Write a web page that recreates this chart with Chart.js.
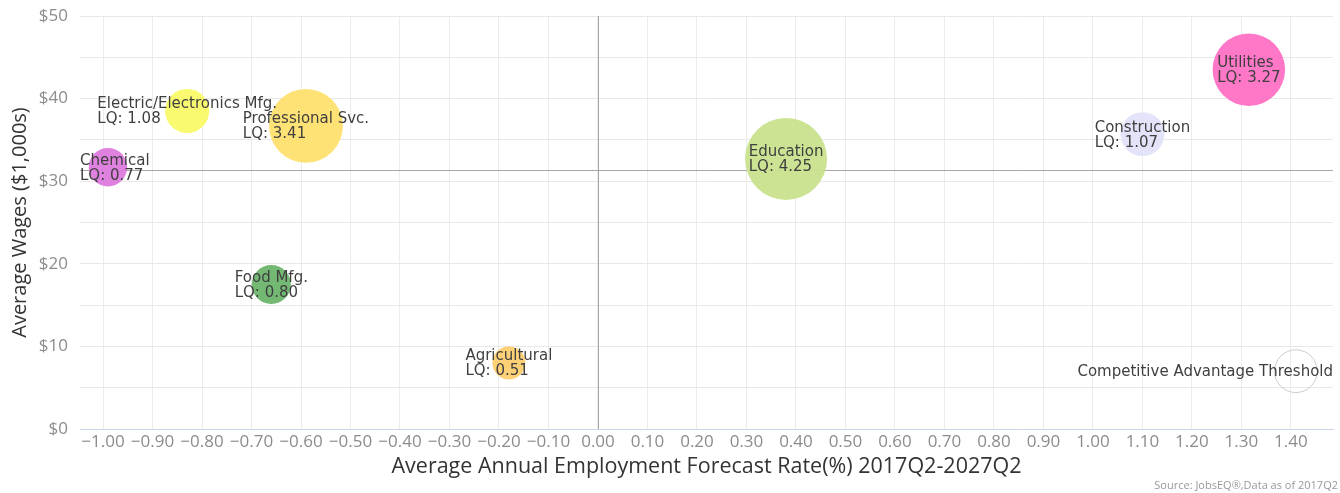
<!DOCTYPE html>
<html>
<head>
<meta charset="utf-8">
<script src="https://cdn.jsdelivr.net/npm/chart.js@4/dist/chart.umd.min.js"></script>
<style>
  html, body { margin: 0; padding: 0; background: #fff; }
  #wrap { width: 1340px; height: 493px; position: relative; }
</style>
</head>
<body>
<div id="wrap"><canvas id="lqChart"></canvas></div>
<script>
// Industries: employment forecast vs. average wage, bubble size = location quotient (LQ)
const industries = ["Chemical", "Electric/Electronics Mfg.", "Professional Svc.", "Food Mfg.",
  "Agricultural", "Education", "Construction", "Utilities"];
const forecastRates = [-0.99, -0.83, -0.59, -0.66, -0.18, 0.38, 1.10, 1.315];
const avgWages = [31.7, 38.5, 36.7, 17.5, 8.0, 32.7, 35.7, 43.5];
const lqValues = [0.77, 1.08, 3.41, 0.80, 0.51, 4.25, 1.07, 3.27];
const bubbleColors = [
  "rgba(221, 122, 221, 0.95)",
  "rgba(250, 250, 105, 0.95)",
  "rgba(255, 224, 110, 0.95)",
  "rgba(108, 180, 108, 0.95)",
  "rgba(255, 207, 112, 0.95)",
  "rgba(200, 226, 140, 0.95)",
  "rgba(226, 226, 250, 0.95)",
  "rgba(255, 112, 196, 0.95)",
];

// Reference bubble (LQ = 1)
const thresholdLabel = "Competitive Advantage Threshold";
const thresholdX = [1.41];
const thresholdY = [7.0];
const thresholdLQ = [1.0];

// Regional average wage (horizontal reference line)
const regionAvgWage = 31.3;

const xTickValues = [-1.0, -0.9, -0.8, -0.7, -0.6, -0.5, -0.4, -0.3, -0.2, -0.1, 0,
  0.1, 0.2, 0.3, 0.4, 0.5, 0.6, 0.7, 0.8, 0.9, 1.0, 1.1, 1.2, 1.3, 1.4];
const yTickValues = [0, 5, 10, 15, 20, 25, 30, 35, 40, 45, 50];

// bubble size by area, like highcharts (min/max diameter in px)
const allLQ = lqValues.concat(thresholdLQ);
const zMin = Math.min(...allLQ);
const zMax = Math.max(...allLQ);
function bubbleRadius(z) {
  const minD = 33, maxD = 82;
  const pos = (z - zMin) / (zMax - zMin);
  return Math.sqrt(minD * minD + pos * (maxD * maxD - minD * minD)) / 2;
}

const industryPoints = industries.map((name, i) => ({
  x: forecastRates[i], y: avgWages[i], r: bubbleRadius(lqValues[i]),
}));
const industryLabels = industries.map((name, i) => [name, "LQ: " + lqValues[i].toFixed(2)]);

const thresholdPoints = thresholdX.map((x, i) => ({
  x: x, y: thresholdY[i], r: bubbleRadius(thresholdLQ[i]),
}));

// lignes de référence (x = 0 et salaire moyen)
const refLines = {
  id: "refLines",
  beforeDatasetsDraw(chart) {
    const { ctx, chartArea, scales } = chart;
    const x0 = Math.round(scales.x.getPixelForValue(0)) + 0.5;
    const yAvg = Math.round(scales.y.getPixelForValue(regionAvgWage)) + 0.5;
    ctx.save();
    ctx.strokeStyle = "#a6a6a6";
    ctx.lineWidth = 1;
    ctx.beginPath();
    ctx.moveTo(x0, chartArea.top);
    ctx.lineTo(x0, chartArea.bottom);
    ctx.moveTo(chartArea.left, yAvg);
    ctx.lineTo(chartArea.right, yAvg);
    ctx.stroke();
    ctx.restore();
  },
};

// étiquettes des bulles
const bubbleLabels = {
  id: "bubbleLabels",
  afterDatasetsDraw(chart) {
    const { ctx, chartArea } = chart;
    ctx.save();
    ctx.font = '15px "DejaVu Sans"';
    ctx.fillStyle = "#3f3f3f";
    ctx.textAlign = "left";
    ctx.textBaseline = "middle";
    const lh = 15;
    chart.data.datasets.forEach((ds, di) => {
      const meta = chart.getDatasetMeta(di);
      meta.data.forEach((el, i) => {
        const lines = ds.labelLines[i];
        const w = Math.max(...lines.map((t) => ctx.measureText(t).width));
        let x = el.x - w / 2;
        x = Math.max(chartArea.left, Math.min(x, chartArea.right - w));
        const y = el.y + 1 - ((lines.length - 1) * lh) / 2;
        lines.forEach((t, k) => ctx.fillText(t, x, y + k * lh));
      });
    });
    ctx.restore();
  },
};

const sourceNote = {
  id: "sourceNote",
  afterDraw(chart) {
    const ctx = chart.ctx;
    ctx.save();
    ctx.font = '11px "Open Sans"';
    ctx.fillStyle = "#999999";
    ctx.textAlign = "right";
    ctx.textBaseline = "middle";
    ctx.fillText("Source: JobsEQ®,Data as of 2017Q2", 1338, 486);
    ctx.restore();
  },
};

const tickFont = { family: "Open Sans", size: 17 };

new Chart(document.getElementById("lqChart"), {
  type: "bubble",
  data: {
    datasets: [
      {
        data: industryPoints,
        labelLines: industryLabels,
        backgroundColor: bubbleColors,
        borderColor: bubbleColors,
        borderWidth: 0,
      },
      {
        data: thresholdPoints,
        labelLines: [[thresholdLabel]],
        backgroundColor: "rgba(255, 255, 255, 0)",
        borderColor: "#cccccc",
        borderWidth: 1,
      },
    ],
  },
  options: {
    responsive: true,
    maintainAspectRatio: false,
    animation: false,
    events: [],
    layout: { autoPadding: false, padding: { top: 16, right: 7, bottom: 0, left: 0 } },
    plugins: { legend: { display: false }, tooltip: { enabled: false } },
    scales: {
      x: {
        type: "linear",
        min: -1.0465,
        max: 1.485,
        afterBuildTicks: (scale) => {
          scale.ticks = xTickValues.map((v) => ({ value: v }));
        },
        afterFit: (scale) => {
          scale.height = 64;
          scale.paddingLeft = 0;
          scale.paddingRight = 0;
        },
        grid: { color: "#ececec", drawTicks: false },
        border: { display: true, color: "#ccd6eb", width: 1 },
        ticks: {
          autoSkip: false,
          maxRotation: 0,
          minRotation: 0,
          padding: 3,
          color: "#8c8c8c",
          font: tickFont,
          callback: (v) => v.toFixed(2).replace("-", "\u2212"),
        },
        title: {
          display: true,
          text: "Average Annual Employment Forecast Rate(%) 2017Q2-2027Q2",
          color: "#333333",
          font: { family: "Open Sans", size: 21.5 },
          padding: { top: 0, bottom: 13 },
        },
      },
      y: {
        type: "linear",
        min: 0,
        max: 50,
        afterBuildTicks: (scale) => {
          scale.ticks = yTickValues.map((v) => ({ value: v }));
        },
        afterFit: (scale) => {
          scale.width = 80;
          scale.paddingTop = 0;
          scale.paddingBottom = 0;
        },
        grid: { color: "#e8e8e8", drawTicks: false },
        border: { display: false },
        ticks: {
          padding: 12,
          color: "#8c8c8c",
          font: tickFont,
          callback: (v) => (v % 10 === 0 ? "$" + v : ""),
        },
        title: {
          display: true,
          text: "Average Wages ($1,000s)",
          color: "#333333",
          font: { family: "Open Sans", size: 20 },
          padding: { top: 8, bottom: 0 },
        },
      },
    },
  },
  plugins: [refLines, bubbleLabels, sourceNote],
});
</script>
</body>
</html>
